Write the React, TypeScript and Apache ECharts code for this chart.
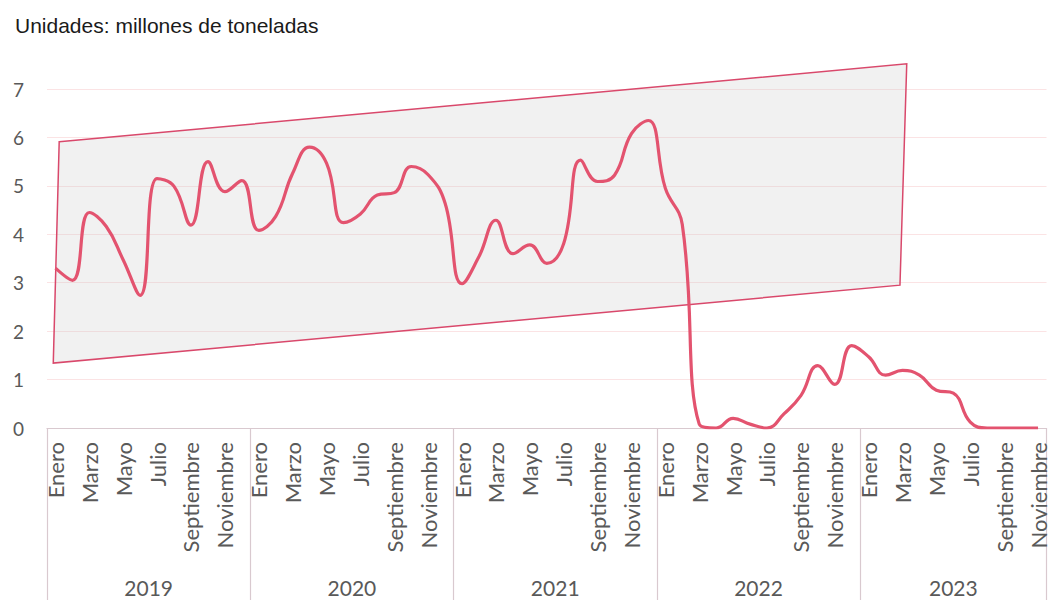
import React, { useEffect, useRef } from "react";
import * as echarts from "echarts";

const monthNames = ["Enero", "Febrero", "Marzo", "Abril", "Mayo", "Junio", "Julio", "Agosto", "Septiembre", "Octubre", "Noviembre", "Diciembre"];
const years = ["2019", "2020", "2021", "2022", "2023"];
const monthsPerYear = [12, 12, 12, 12, 11];

const values2019 = [3.3, 3.05, 4.45, 4.16, 3.47, 2.74, 5.15, 4.99, 4.19, 5.5, 4.88, 5.11];
const values2020 = [4.08, 4.37, 5.26, 5.8, 5.47, 4.24, 4.42, 4.81, 4.86, 5.4, 5.23, 4.64];
const values2021 = [2.98, 3.54, 4.29, 3.6, 3.78, 3.4, 3.81, 5.53, 5.09, 5.22, 6.08, 6.35];
const values2022 = [4.95, 4.2, 0.08, 0.0, 0.2, 0.08, 0.0, 0.29, 0.67, 1.29, 0.9, 1.7];
const values2023 = [1.47, 1.09, 1.19, 1.09, 0.78, 0.72, 0.12, 0.0, 0.0, 0.0, 0.0];

// Highlight band (parallelogram) corners: x in month-index units, y in value units
const bandX = [0.22, 50.25, 49.85, -0.13];
const bandY = [5.91, 7.52, 2.95, 1.34];

const yTicks = [0, 1, 2, 3, 4, 5, 6, 7];

const categories: string[] = [];
monthsPerYear.forEach((n) => {
  for (let m = 0; m < n; m++) categories.push(monthNames[m]);
});
const values = [...values2019, ...values2020, ...values2021, ...values2022, ...values2023];

// Year label centers in month-index units
const yearCenters: number[] = [];
{
  let start = 0;
  monthsPerYear.forEach((n) => {
    yearCenters.push(start + (n - 1) / 2);
    start += n;
  });
}

const axisGray = "#d9c9cf";
const labelGray = "#595959";
const lineColor = "#e3536f";

export default function App() {
  const ref = useRef<HTMLDivElement>(null);
  useEffect(() => {
    if (!ref.current) return;
    const chart = echarts.init(ref.current, undefined, { renderer: "svg" });
    const n = categories.length;
    chart.setOption({
      animation: false,
      backgroundColor: "#ffffff",
      title: {
        text: "Unidades: millones de toneladas",
        left: 10,
        top: 10,
        textStyle: { fontSize: 21, fontWeight: "normal", color: "#1a1a1a", fontFamily: "Liberation Sans" },
      },
      grid: { left: 47, right: -2, top: 89, bottom: 172, containLabel: false },
      xAxis: [
        {
          type: "category",
          data: categories,
          boundaryGap: true,
          axisLine: { show: true, lineStyle: { color: axisGray, width: 1.2 } },
          axisTick: {
            show: true,
            interval: (i: number) => i % 12 === 0,
            length: 180,
            lineStyle: { color: axisGray, width: 1.2 },
          },
          axisLabel: {
            interval: 1,
            rotate: 90,
            margin: 14,
            fontSize: 22,
            fontFamily: "Lato",
            color: labelGray,
          },
          splitLine: { show: false },
        },
        {
          type: "value",
          position: "bottom",
          min: -0.5,
          max: n - 0.5,
          interval: 0.5,
          offset: 143,
          axisLine: { show: false },
          axisTick: { show: false },
          splitLine: { show: false },
          axisLabel: {
            margin: 6,
            fontSize: 21,
            fontFamily: "Lato",
            color: labelGray,
            showMinLabel: false,
            showMaxLabel: false,
            formatter: (v: number) => {
              const k = yearCenters.findIndex((c) => Math.abs(c - v) < 1e-6);
              return k >= 0 ? years[k] : "";
            },
          },
        },
        {
          type: "value",
          show: false,
          min: -0.5,
          max: n - 0.5,
        },
      ],
      yAxis: {
        type: "value",
        min: 0,
        max: 7,
        interval: 1,
        axisLine: { show: false },
        axisTick: { show: false },
        splitLine: { show: true, lineStyle: { color: "#fbe3e4", width: 1.2 } },
        axisLabel: {
          margin: 23,
          fontSize: 19,
          fontFamily: "Lato",
          color: labelGray,
          formatter: (v: number) => (yTicks.includes(v) ? String(v) : ""),
        },
      },
      series: [
        {
          type: "custom",
          xAxisIndex: 2,
          yAxisIndex: 0,
          clip: false,
          silent: true,
          z: 1,
          data: [[0, 0]],
          renderItem: (_params: any, api: any) => {
            const pts = bandX.map((x, k) => api.coord([x, bandY[k]]));
            return {
              type: "polygon",
              shape: { points: pts },
              style: { fill: "rgba(200,200,200,0.25)", stroke: "#d9486b", lineWidth: 1.5 },
            };
          },
        },
        {
          type: "line",
          xAxisIndex: 0,
          yAxisIndex: 0,
          data: values,
          smooth: 0.45,
          symbol: "none",
          z: 3,
          lineStyle: { color: lineColor, width: 3.2 },
        },
      ],
    });
    return () => chart.dispose();
  }, []);
  return <div ref={ref} style={{ position: "fixed", left: 0, top: 0, width: 1049, height: 600 }} />;
}
